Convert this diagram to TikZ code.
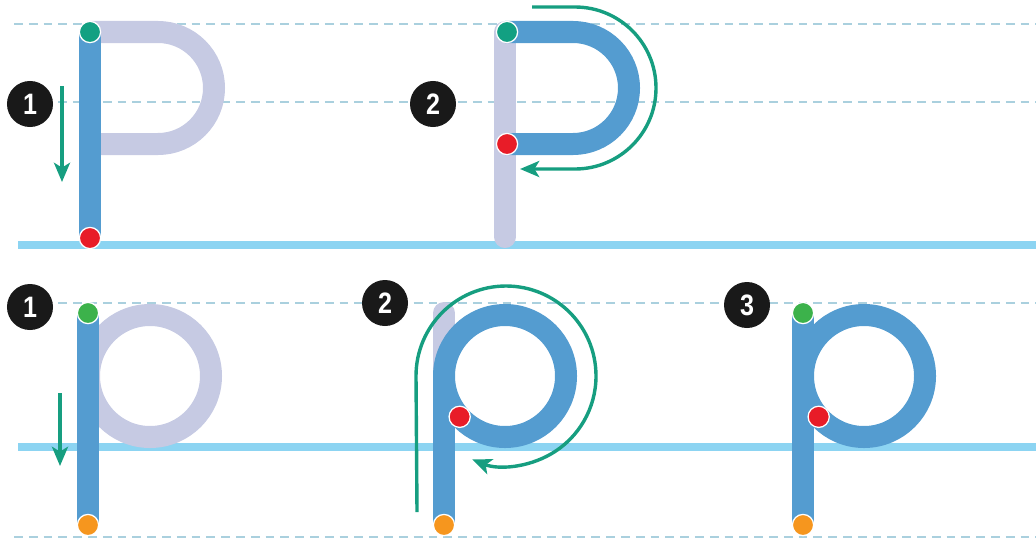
\documentclass[tikz,border=0pt]{standalone}
\usepackage{fontspec}
\newfontfamily\badgefont{Liberation Sans}[FakeStretch=0.85]
\usetikzlibrary{arrows.meta,calc}

\definecolor{strokeblue}{RGB}{84,156,208}
\definecolor{lavender}{RGB}{198,202,227}
\definecolor{guidegreen}{RGB}{22,158,128}
\definecolor{dotteal}{RGB}{18,160,130}
\definecolor{dotgreen}{RGB}{60,178,75}
\definecolor{dotred}{RGB}{232,28,40}
\definecolor{dotorange}{RGB}{246,150,30}
\definecolor{baseblue}{RGB}{140,212,242}
\definecolor{dashblue}{RGB}{170,208,222}

\tikzset{
  penstroke/.style={line width=0.55cm},
  dashline/.style={dashblue, line width=1.5pt, dash pattern=on 0.22cm off 0.15cm},
  baseline/.style={baseblue, line width=0.22cm},
  guidearrow/.style={guidegreen, line width=0.085cm, -{Stealth[length=0.48cm,width=0.4cm,inset=0.12cm]}},
  dotnode/.style={circle, draw=white, line width=0.9pt, inner sep=0pt, minimum size=0.53cm},
  badge/.style={circle, fill=black!90, text=white, inner sep=0pt, minimum size=1.15cm,
    font=\badgefont\bfseries\fontsize{21}{21}\selectfont}
}

\begin{document}
\begin{tikzpicture}[x=0.025cm, y=-0.025cm]
  \useasboundingbox (0,0) rectangle (1036,540);

  % guide lines
  \draw [dashline] (14,24) -- (1036,24);
  \draw [dashline] (14,102) -- (1036,102);
  \draw [baseline] (18,245) -- (1036,245);
  \draw [dashline] (14,303) -- (1036,303);
  \draw [baseline] (18,447) -- (1036,447);
  \draw [dashline] (14,537) -- (1036,537);

  % capital P, step 1
  \draw [penstroke, lavender] (90,32) -- (158,32) arc (-90:90:56) -- (90,144);
  \draw [penstroke, strokeblue] (90,32) -- (90,238);
  % capital P, step 2
  \draw [penstroke, lavender, line cap=round] (505,32) -- (505,237);
  \draw [penstroke, strokeblue] (505,32) -- (573,32) arc (-90:90:56) -- (505,144);

  % small p, step 1
  \draw [penstroke, lavender] (150,376) circle (61);
  \draw [penstroke, strokeblue] (88,313) -- (88,525);
  % small p, step 2
  \draw [penstroke, lavender, line cap=round] (444,313) -- (444,400);
  \draw [penstroke, strokeblue] (444,525) -- (444,376);
  \draw [penstroke, strokeblue] (505,376) circle (61);
  % small p, step 3
  \draw [penstroke, strokeblue] (803,313) -- (803,525);
  \draw [penstroke, strokeblue] (864,376) circle (61);

  % writing directions
  \coordinate (a1s) at (62,86);
  \coordinate (a1e) at (62,182);
  \coordinate (a2s) at (532,7);
  \coordinate (a3s) at (60,393);
  \coordinate (a3e) at (60,466);
  \coordinate (a4s) at (417,512);
  \draw [guidearrow] (a1s) -- (a1e);
  \draw [guidearrow] (a2s) -- (575,7) arc (-90:90:81) -- (520,169);
  \draw [guidearrow] (a3s) -- (a3e);
  \draw [guidearrow] (a4s) -- (416,376) arc (180:472:90);

  % start and end points
  \node [dotnode, fill=dotteal] (P1top) at (90,32) {};
  \node [dotnode, fill=dotred] (P1end) at (90,238) {};
  \node [dotnode, fill=dotteal] (P2top) at (507,32) {};
  \node [dotnode, fill=dotred] (P2end) at (507,144) {};
  \node [dotnode, fill=dotgreen] (p1top) at (88,313) {};
  \node [dotnode, fill=dotorange] (p1end) at (88,525) {};
  \node [dotnode, fill=dotred] (p2join) at ($(505,376)+(138:61)$) {};
  \node [dotnode, fill=dotorange] (p2end) at (444,525) {};
  \node [dotnode, fill=dotgreen] (p3top) at (803,313) {};
  \node [dotnode, fill=dotred] (p3join) at ($(864,376)+(138:61)$) {};
  \node [dotnode, fill=dotorange] (p3end) at (803,525) {};

  % step numbers
  \node [badge] (P1num) at (30,104) {1};
  \node [badge] (P2num) at (433,104) {2};
  \node [badge] (p1num) at (30,307) {1};
  \node [badge] (p2num) at (385,303) {2};
  \node [badge] (p3num) at (747,305) {3};
\end{tikzpicture}
\end{document}
